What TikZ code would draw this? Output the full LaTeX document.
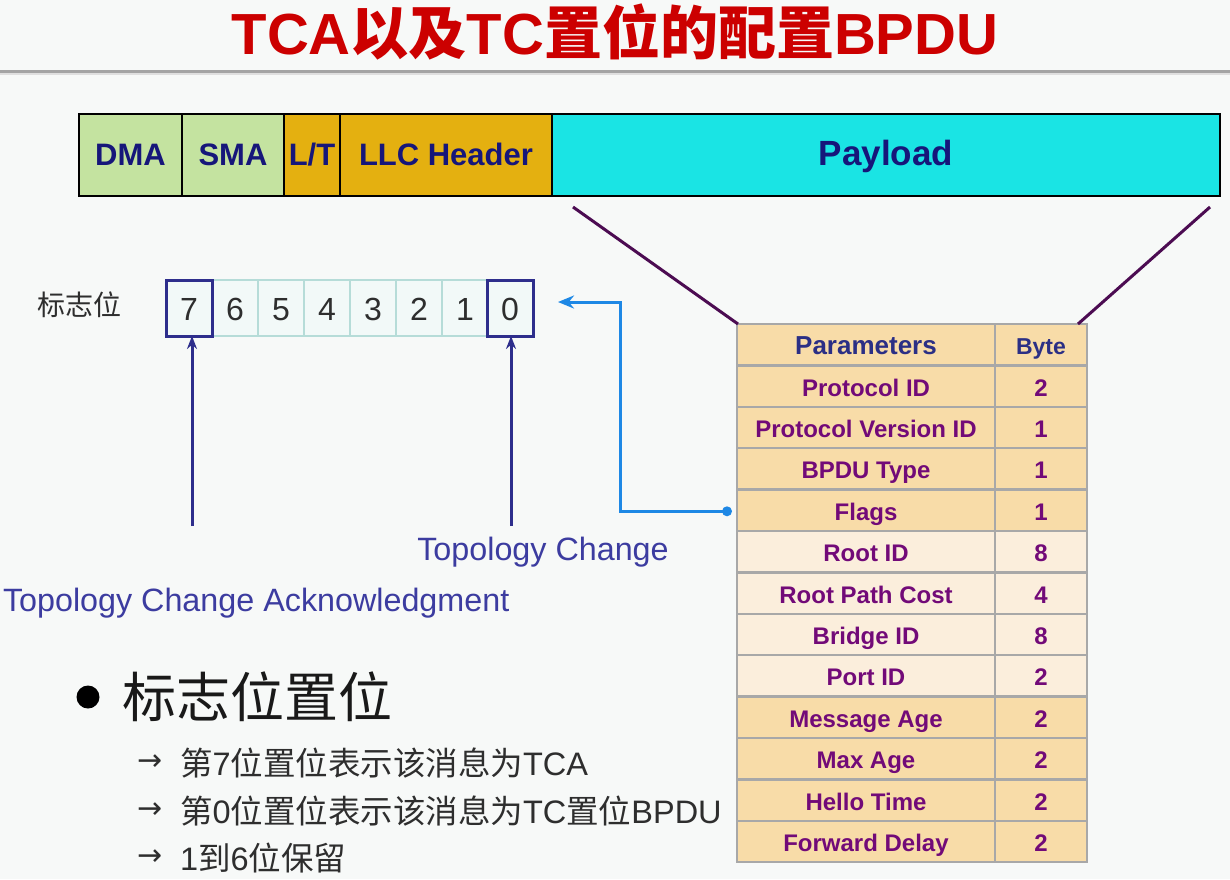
\documentclass[tikz,border=0pt]{standalone}
\usepackage{fontspec}
\setmainfont{Liberation Sans}
\newfontfamily\cjk{Noto Sans CJK SC}
\newfontfamily\symf{DejaVu Sans}
\usetikzlibrary{arrows.meta,calc}

\definecolor{pagebg}{HTML}{F7F9F8}
\definecolor{titlered}{HTML}{CC0000}
\definecolor{rulegray}{HTML}{A4A4A4}
\definecolor{framenavy}{HTML}{16167A}
\definecolor{macgreen}{HTML}{C4E3A0}
\definecolor{hdrgold}{HTML}{E4B010}
\definecolor{paycyan}{HTML}{1AE4E4}
\definecolor{linkpurple}{HTML}{4C0C52}
\definecolor{tblgray}{HTML}{A8A8A8}
\definecolor{tantone}{HTML}{F8DCA8}
\definecolor{lighttone}{HTML}{FBEEDC}
\definecolor{rowpurple}{HTML}{720A78}
\definecolor{hdrnavy}{HTML}{2B2F85}
\definecolor{bitteal}{HTML}{B6DCD8}
\definecolor{bitfill}{HTML}{F2F9F8}
\definecolor{bitnavy}{HTML}{2E2E8C}
\definecolor{labelnavy}{HTML}{3C3CA0}
\definecolor{flagblue}{HTML}{1E88E5}
\definecolor{bodygray}{HTML}{2E2E2E}

\begin{document}
\begin{tikzpicture}[x=1pt,y=-1pt,
  every node/.style={inner sep=0pt, outer sep=0pt},
  fieldcell/.style={draw=black, line width=2.5pt, minimum height=82pt,
    text height=23pt, text depth=3pt,
    font=\fontsize{31}{31}\selectfont\bfseries, text=framenavy},
  pcell/.style={draw=tblgray, line width=2.5pt, minimum height=41.4pt,
    minimum width=258pt, text height=21pt, text depth=1pt,
    font=\fontsize{24}{24}\selectfont\bfseries, text=rowpurple},
  bcell/.style={pcell, minimum width=92pt},
  bitcell/.style={draw=bitteal, line width=1.5pt, fill=bitfill, minimum width=46pt,
    minimum height=56pt, text height=24pt, text depth=0pt,
    font=\fontsize{32}{32}\selectfont, text=bodygray},
  bitmark/.style={bitcell, draw=bitnavy, line width=3pt},
  uparrow/.style={draw=bitnavy, line width=3pt, -{Stealth[length=13pt,width=10pt]}},
  flagarrow/.style={draw=flagblue, line width=3pt, -{Stealth[length=16pt,width=13pt]}},
  linkline/.style={draw=linkpurple, line width=3pt},
  caption/.style={font=\fontsize{32.3}{32.3}\selectfont, text=labelnavy},
  subitem/.style={anchor=west, font=\fontsize{32.5}{32.5}\selectfont, text=bodygray},
  subarrow/.style={font=\symf\fontsize{30}{30}\selectfont, text=bodygray}
]
% page and title rule
\fill[pagebg] (0,0) rectangle (1230,879);
\useasboundingbox (0,0) rectangle (1230,879);
\draw[rulegray, line width=3pt] (0,71) -- (1230,71);
\draw[rulegray!35, line width=2pt] (0,74) -- (1230,74);

\node[font=\fontsize{58}{58}\selectfont\bfseries, text=titlered] (title) at (615,32)
  {TCA{\cjk 以及}TC{\cjk 置位的配置}BPDU};

% Ethernet frame
\node[fieldcell, fill=macgreen, minimum width=103pt] (dma) at (130.5,155) {DMA};
\node[fieldcell, fill=macgreen, minimum width=102pt] (sma) at (233,155) {SMA};
\node[fieldcell, fill=hdrgold, minimum width=56pt] (lt) at (312,155) {L/T};
\node[fieldcell, fill=hdrgold, minimum width=212pt] (llc) at (446,155) {LLC Header};
\node[fieldcell, fill=paycyan, minimum width=668pt,
  font=\fontsize{35}{35}\selectfont\bfseries] (payload) at (886,155) {Payload};

% BPDU parameter table
\node[pcell, fill=tantone, text=hdrnavy, font=\fontsize{26}{26}\selectfont\bfseries] (p0) at (866,344.7) {Parameters};
\node[bcell, fill=tantone, text=hdrnavy, font=\fontsize{23}{23}\selectfont\bfseries] (b0) at (1041,344.7) {Byte};
\foreach \i/\nm/\bt/\fc in {
  1/Protocol ID/2/tantone,
  2/Protocol Version ID/1/tantone,
  3/BPDU Type/1/tantone,
  4/Flags/1/tantone,
  5/Root ID/8/lighttone,
  6/Root Path Cost/4/lighttone,
  7/Bridge ID/8/lighttone,
  8/Port ID/2/lighttone,
  9/Message Age/2/tantone,
  10/Max Age/2/tantone,
  11/Hello Time/2/tantone,
  12/Forward Delay/2/tantone}{
  \node[pcell, fill=\fc] (p\i) at (866,{344.7+41.4*\i}) {\nm};
  \node[bcell, fill=\fc] (b\i) at (1041,{344.7+41.4*\i}) {\bt};
}

% payload expands into the table
\coordinate (payL) at (573,207);
\coordinate (payR) at (1210,207);
\draw[linkline] (payL) -- ([xshift=1pt]p0.north west);
\draw[linkline] (payR) -- ([xshift=-9pt]b0.north east);

% flag byte
\node[font=\cjk\fontsize{28}{28}\selectfont, text=bodygray, anchor=west] (flaglbl) at (37,305) {标志位};
\foreach \b/\x in {6/235,5/281,4/327,3/373,2/419,1/465}{
  \node[bitcell] (bit\b) at (\x,308) {\b};
}
\node[bitmark] (bit7) at (189,308) {7};
\node[bitmark] (bit0) at (510,308) {0};

% bit meanings
\node[caption] (tc) at (543,552) {Topology Change};
\node[caption, anchor=west] (tca) at (3,603) {Topology Change Acknowledgment};
\draw[uparrow] ([xshift=3pt,yshift=-190pt]bit7.south) -- ([xshift=3pt]bit7.south);
\draw[uparrow] ([xshift=1pt,yshift=-190pt]bit0.south) -- ([xshift=1pt]bit0.south);

% Flags field points to the flag byte
\coordinate (flagtip) at (558,302);
\fill[flagblue] ($(p4.west)+(-10,1)$) circle (5pt);
\draw[flagarrow] ($(p4.west)+(-10,1)$) -| (620,302) -- (flagtip);

% bullet list
\fill[black] (88,697) circle (11.5pt);
\node[anchor=west, font=\cjk\fontsize{54}{54}\selectfont, text=black!90] (head) at (122,697) {标志位置位};
\node[subarrow] (ar1) at (150,763) {→};
\node[subarrow] (ar2) at (150,811) {→};
\node[subarrow] (ar3) at (150,858) {→};
\node[subitem] (it1) at (180,763) {{\cjk 第}7{\cjk 位置位表示该消息为}TCA};
\node[subitem] (it2) at (180,811) {{\cjk 第}0{\cjk 位置位表示该消息为}TC{\cjk 置位}BPDU};
\node[subitem] (it3) at (180,858) {1{\cjk 到}6{\cjk 位保留}};
\end{tikzpicture}
\end{document}
